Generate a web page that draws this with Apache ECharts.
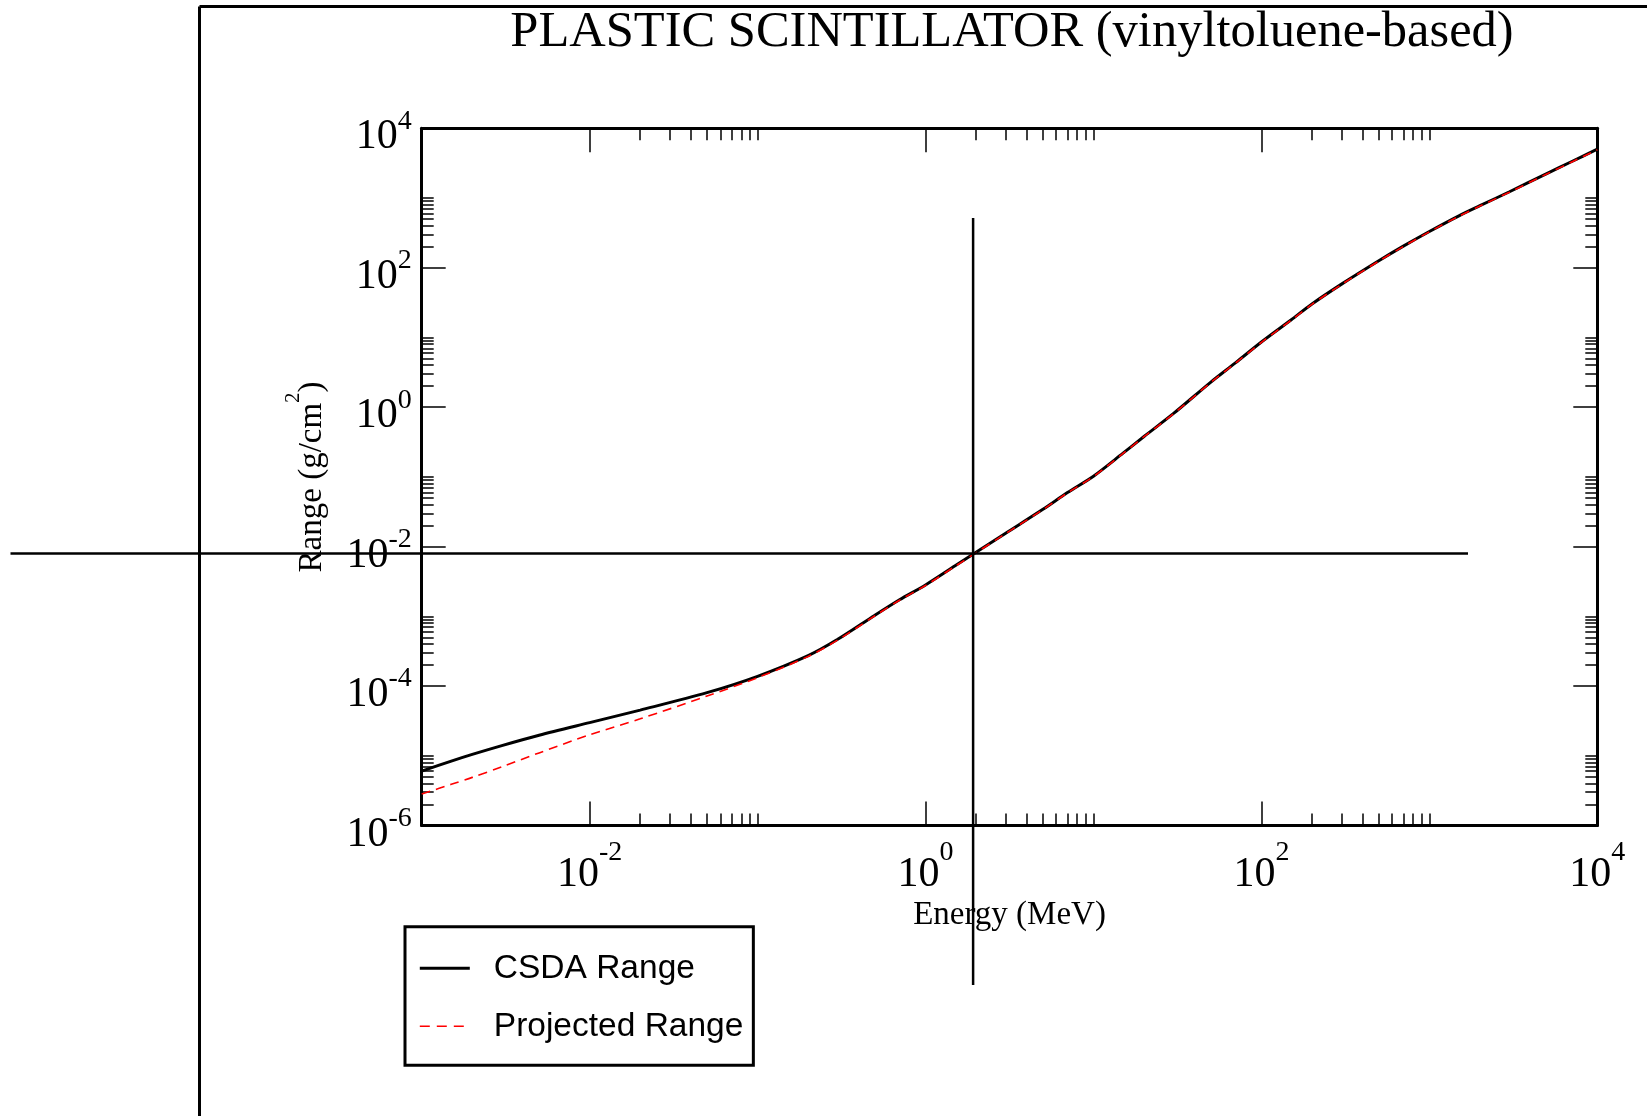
<!DOCTYPE html>
<html>
<head>
<meta charset="utf-8">
<title>PLASTIC SCINTILLATOR (vinyltoluene-based)</title>
<script src="https://cdn.jsdelivr.net/npm/echarts@6/dist/echarts.min.js"></script>
<style>
  html, body { margin: 0; padding: 0; background: #ffffff; }
  #chart { width: 1647px; height: 1116px; }
</style>
</head>
<body>
<div id="chart"></div>
<script>
// Proton ranges in vinyltoluene-based plastic scintillator (g/cm^2) versus kinetic energy (MeV)
const energyMeV = [
  0.001, 0.0015, 0.002, 0.003, 0.005, 0.01, 0.02, 0.05, 0.1, 0.2, 0.3, 0.5, 0.7,
  1, 1.5, 2, 3, 5, 7, 10, 15, 20, 30, 50, 70, 100, 150, 200, 300, 500, 700,
  1000, 1500, 2000, 3000, 5000, 7000, 10000
];
const csdaRange = [
  6.03e-6, 8.39e-6, 1.047e-5, 1.40e-5, 1.97e-5, 2.99e-5, 4.52e-5, 8.04e-5, 1.38e-4, 2.73e-4, 4.68e-4, 1.04e-3, 1.73e-3,
  2.82e-3, 5.30e-3, 8.28e-3, 1.556e-2, 3.43e-2, 5.96e-2, 0.1023, 0.219, 0.380, 0.813, 2.29, 4.32, 8.61, 17.8, 30.2, 58.2, 125.9, 204,
  331, 556, 776, 1230, 2239, 3311, 5012
];
const projectedRange = [
  2.82e-6, 3.90e-6, 4.90e-6, 6.95e-6, 1.10e-5, 2.00e-5, 3.39e-5, 7.19e-5, 1.32e-4, 2.66e-4, 4.57e-4, 1.02e-3, 1.70e-3,
  2.77e-3, 5.22e-3, 8.17e-3, 1.54e-2, 3.39e-2, 5.90e-2, 0.1013, 0.217, 0.377, 0.806, 2.27, 4.28, 8.49, 17.6, 29.9, 57.5, 124.5, 201.5,
  327, 549, 766, 1213, 2208, 3265, 4920
];

// Axis ticks and labels
const xLabelValues = [1e-2, 1, 1e2, 1e4];
const xMajorTicks = [1e-2, 1, 1e2];
const xMinorTicks = [
  0.02, 0.03, 0.04, 0.05, 0.06, 0.07, 0.08, 0.09, 0.1,
  2, 3, 4, 5, 6, 7, 8, 9, 10,
  200, 300, 400, 500, 600, 700, 800, 900, 1000
];
const yLabelValues = [1e-6, 1e-4, 1e-2, 1, 1e2, 1e4];
const yMajorTicks = [1e-4, 1e-2, 1, 1e2];
const yMinorTicks = [
  2e-6, 3e-6, 4e-6, 5e-6, 6e-6, 7e-6, 8e-6, 9e-6, 1e-5,
  2e-4, 3e-4, 4e-4, 5e-4, 6e-4, 7e-4, 8e-4, 9e-4, 1e-3,
  0.02, 0.03, 0.04, 0.05, 0.06, 0.07, 0.08, 0.09, 0.1,
  2, 3, 4, 5, 6, 7, 8, 9, 10,
  200, 300, 400, 500, 600, 700, 800, 900, 1000
];

// Marked point: crossing lines through the curve
const crossPoint = [1.92, 8.0e-3];

const seriesNames = ['CSDA Range', 'Projected Range'];
const titleText = 'PLASTIC SCINTILLATOR (vinyltoluene-based)';
const xName = 'Energy (MeV)';

const SERIF = '"Liberation Serif", "Times New Roman", Times, serif';
const SANS = '"Liberation Sans", Arial, Helvetica, sans-serif';

function pairs(xs, ys) {
  return xs.map(function (x, i) { return [x, ys[i]]; });
}

function powerLabel(value) {
  const exp = Math.round(Math.log10(value));
  return '{b|10}{s|' + exp + '}';
}

// "10" plus a raised exponent; both parts share one line box and padding shifts them apart
function powerRich(raise) {
  return {
    b: { fontFamily: SERIF, fontSize: 42, lineHeight: 60, color: '#000', padding: [18, 0, 0, 0] },
    s: { fontFamily: SERIF, fontSize: 28, lineHeight: 60, color: '#000', padding: [0, 0, raise, 0] }
  };
}

const tickLine = { color: '#000', width: 1.5 };
const frameLine = { color: '#000', width: 3 };

function logAxis(extra) {
  return Object.assign({
    type: 'log',
    logBase: 10,
    splitLine: { show: false },
    minorTick: { show: false },
    minorSplitLine: { show: false },
    axisLine: { show: false, lineStyle: frameLine },
    axisLabel: { show: false },
    axisTick: { show: false },
    nameMoveOverlap: false
  }, extra);
}

function xAxisSet(min, max) {
  return [
    logAxis({
      min: min, max: max, position: 'bottom',
      axisLine: { show: true, onZero: false, lineStyle: frameLine },
      axisTick: { show: true, inside: true, length: 24, lineStyle: tickLine, customValues: xMajorTicks },
      axisLabel: {
        show: true, margin: 10,
        customValues: xLabelValues, formatter: powerLabel, rich: powerRich(26)
      },
      name: xName,
      nameLocation: 'middle',
      nameGap: 73,
      nameTextStyle: { fontFamily: SERIF, fontSize: 33, lineHeight: 33, color: '#000' }
    }),
    logAxis({
      min: min, max: max, position: 'bottom',
      axisTick: { show: true, inside: true, length: 12, lineStyle: tickLine, customValues: xMinorTicks }
    }),
    logAxis({
      min: min, max: max, position: 'top',
      axisLine: { show: true, onZero: false, lineStyle: frameLine },
      axisTick: { show: true, inside: true, length: 24, lineStyle: tickLine, customValues: xMajorTicks }
    }),
    logAxis({
      min: min, max: max, position: 'top',
      axisTick: { show: true, inside: true, length: 12, lineStyle: tickLine, customValues: xMinorTicks }
    })
  ];
}

function yAxisSet(min, max) {
  return [
    logAxis({
      min: min, max: max, position: 'left',
      axisLine: { show: true, onZero: false, lineStyle: frameLine },
      axisTick: { show: true, inside: true, length: 24, lineStyle: tickLine, customValues: yMajorTicks },
      axisLabel: {
        show: true, margin: 10,
        customValues: yLabelValues, formatter: powerLabel, rich: powerRich(14)
      },
      name: '{n|Range (g/cm}{s|2}{n|)}',
      nameLocation: 'middle',
      nameRotate: 90,
      nameGap: 92,
      nameTextStyle: {
        color: '#000',
        rich: {
          n: { fontFamily: SERIF, fontSize: 33, lineHeight: 45, color: '#000', padding: [10, 0, 0, 0] },
          s: { fontFamily: SERIF, fontSize: 21, lineHeight: 45, color: '#000', padding: [0, 0, 28, 0] }
        }
      }
    }),
    logAxis({
      min: min, max: max, position: 'left',
      axisTick: { show: true, inside: true, length: 12, lineStyle: tickLine, customValues: yMinorTicks }
    }),
    logAxis({
      min: min, max: max, position: 'right',
      axisLine: { show: true, onZero: false, lineStyle: frameLine },
      axisTick: { show: true, inside: true, length: 24, lineStyle: tickLine, customValues: yMajorTicks }
    }),
    logAxis({
      min: min, max: max, position: 'right',
      axisTick: { show: true, inside: true, length: 12, lineStyle: tickLine, customValues: yMinorTicks }
    })
  ];
}

const chart = echarts.init(document.getElementById('chart'), null, { renderer: 'canvas' });

const option = {
  animation: false,
  backgroundColor: '#ffffff',
  title: {
    text: titleText,
    left: 1012,
    top: 7,
    padding: 0,
    textAlign: 'center',
    textStyle: { fontFamily: SERIF, fontSize: 50.5, lineHeight: 51, fontWeight: 'normal', color: '#000' }
  },
  grid: {
    left: 421.7,
    right: 49.7,
    top: 128.3,
    bottom: 290.5,
    containLabel: false,
    outerBoundsMode: 'none'
  },
  legend: {
    orient: 'vertical',
    left: 405,
    top: 926.7,
    padding: [23.6, 10, 21, 13.3],
    itemGap: 22,
    itemWidth: 50,
    itemHeight: 14,
    selectedMode: false,
    borderColor: '#000',
    borderWidth: 3,
    backgroundColor: '#fff',
    itemStyle: { opacity: 0, borderWidth: 0 },
    textStyle: { fontFamily: SANS, fontSize: 33.5, lineHeight: 36, color: '#000', padding: [0, 0, 0, 19] },
    data: [
      { name: seriesNames[0], lineStyle: { color: '#000', width: 3 } },
      { name: seriesNames[1], lineStyle: { color: '#ff0000', width: 1.6, type: [10, 7] } }
    ]
  },
  xAxis: xAxisSet(1e-3, 1e4),
  yAxis: yAxisSet(1e-6, 1e4),
  series: [
    {
      name: seriesNames[0],
      type: 'line',
      xAxisIndex: 0,
      yAxisIndex: 0,
      data: pairs(energyMeV, csdaRange),
      showSymbol: false,
      symbol: 'none',
      smooth: 0.3,
      lineStyle: { color: '#000', width: 3 },
      itemStyle: { color: '#000' },
      z: 3
    },
    {
      name: seriesNames[1],
      type: 'line',
      xAxisIndex: 0,
      yAxisIndex: 0,
      data: pairs(energyMeV, projectedRange),
      showSymbol: false,
      symbol: 'none',
      smooth: 0.3,
      lineStyle: { color: '#ff0000', width: 1.6, type: [9, 6] },
      itemStyle: { color: '#ff0000' },
      z: 4
    }
  ]
};

chart.setOption(option);

// Crossing lines through the marked point, plus the outer frame edges
const p = chart.convertToPixel({ xAxisIndex: 0, yAxisIndex: 0 }, crossPoint);
chart.setOption({
  graphic: [
    { type: 'line', shape: { x1: p[0], y1: 218, x2: p[0], y2: 985 }, style: { stroke: '#000', lineWidth: 2.5 }, z: 10 },
    { type: 'line', shape: { x1: 10.5, y1: p[1], x2: 1468, y2: p[1] }, style: { stroke: '#000', lineWidth: 2.5 }, z: 10 },
    { type: 'line', shape: { x1: 199.5, y1: 6.5, x2: 199.5, y2: 1116 }, style: { stroke: '#000', lineWidth: 3 }, z: 10 },
    { type: 'line', shape: { x1: 199.5, y1: 6.5, x2: 1647, y2: 6.5 }, style: { stroke: '#000', lineWidth: 3 }, z: 10 }
  ]
});
</script>
</body>
</html>
